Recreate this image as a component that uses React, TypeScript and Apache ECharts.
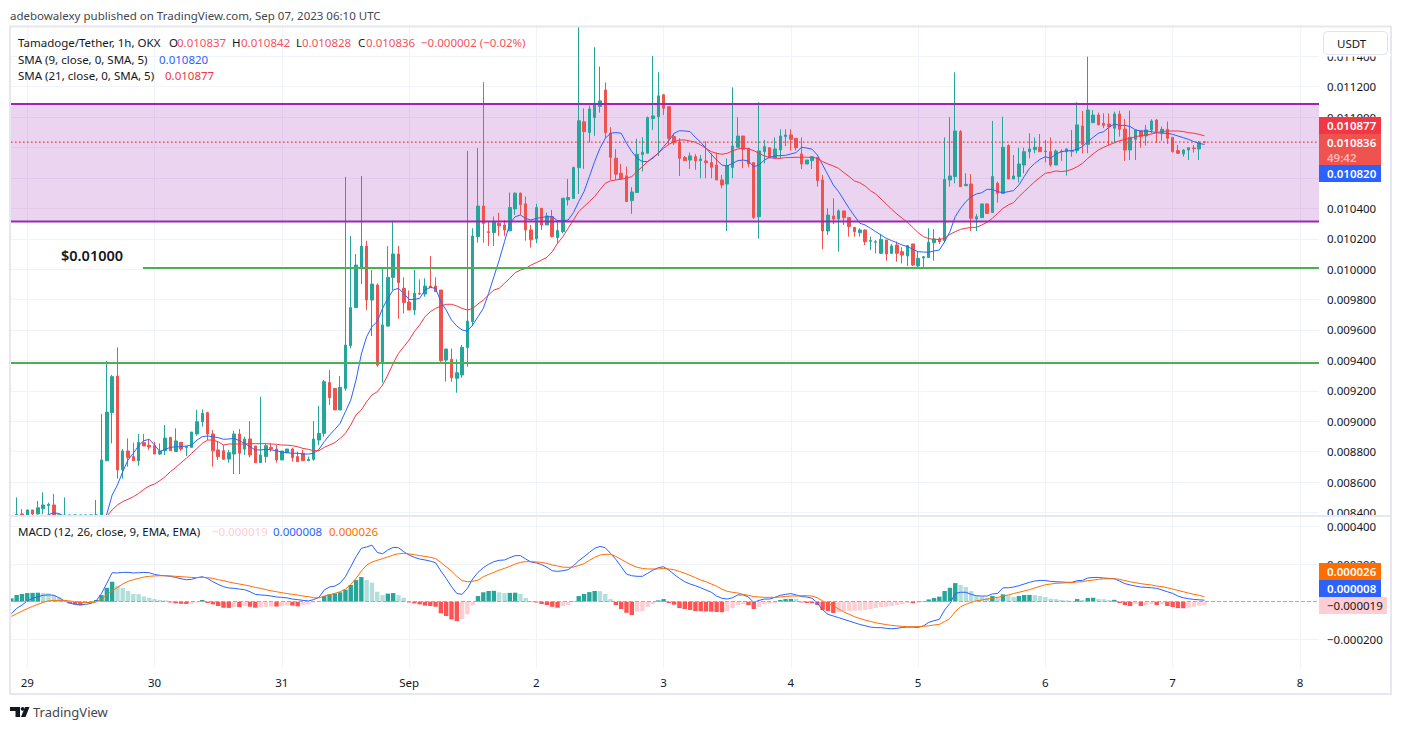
import React, { useEffect, useRef } from "react";
import * as echarts from "echarts";

// all prices are stored in millionths (10836 = 0.010836); rows are [open, close, low, high]
const aug28 = [[8385,8388,8380,8499],[8390,8385,8370,8422]];
const aug29 = [[8380,8416,8370,8418],[8416,8390,8380,8416],[8390,8431,8385,8475],[8425,8449,8388,8532],[8444,8453,8387,8464],[8449,8380,8370,8521],[8370,8350,8320,8380],[8370,8340,8320,8499],[8340,8330,8300,8360],[8330,8320,8300,8350],[8320,8340,8310,8360],[8340,8330,8300,8370],[8330,8300,8280,8350],[8300,8340,8280,8482],[8360,8745,8340,9047],[8740,9060,8737,9396],[9056,9293,8854,9304],[9297,8679,8622,9486],[8679,8804,8622,8817],[8804,8760,8701,8887],[8767,8740,8740,8859],[8740,8861,8707,8916],[8859,8837,8837,8916],[8841,8830,8811,8876]];
const aug30 = [[8839,8784,8784,8865],[8784,8804,8778,8854],[8806,8889,8778,8975],[8894,8806,8806,8894],[8800,8870,8800,8953],[8861,8817,8804,8861],[8826,8832,8771,8834],[8828,8929,8828,8929],[8916,8997,8905,9074],[8997,9052,8964,9078],[9056,8916,8876,9063],[8916,8806,8701,8942],[8811,8767,8745,8865],[8806,8749,8745,8843],[8751,8793,8727,8811],[8784,8916,8653,8936],[8916,8789,8653,8949],[8817,8883,8778,8898],[8883,8778,8762,9001],[8837,8727,8727,8837],[8727,8778,8727,9161],[8767,8839,8727,8854],[8828,8817,8800,8854],[8817,8745,8727,8843]];
const aug31 = [[8745,8804,8745,8804],[8793,8817,8793,8817],[8817,8760,8734,8826],[8767,8734,8734,8800],[8789,8740,8740,8811],[8740,8749,8740,8767],[8749,8883,8740,9001],[8876,8920,8843,9100],[8920,9260,8898,9271],[9254,9155,9107,9337],[9216,9074,9074,9216],[9074,9223,9074,9297],[9216,9501,9200,10607],[9497,9747,9479,10218],[9747,10027,9747,10100],[10010,10152,9902,10613],[10152,9797,9731,10187],[9797,9902,9560,9994],[9896,9369,9358,9907],[9382,9633,9253,10005],[9626,9946,9622,10152],[9946,10100,9863,10318],[10100,9911,9674,10152],[9874,9780,9709,9946]];
const sep1 = [[9784,9731,9731,9860],[9731,9841,9698,9994],[9841,9836,9830,9933],[9837,9889,9819,9940],[9889,9878,9878,10087],[9889,9852,9852,9946],[9863,9398,9390,9863],[9402,9475,9260,9475],[9407,9286,9260,9479],[9282,9319,9187,9407],[9304,9486,9286,9501],[9484,9659,9358,10778],[9655,10218,9626,10269],[10214,10415,10174,10796],[10415,10301,10174,11230],[10247,10241,10153,10313],[10241,10313,10153,10346],[10302,10285,10219,10372],[10291,10258,10219,10324],[10252,10405,10252,10504],[10396,10500,10357,10504],[10500,10423,10357,10504],[10430,10258,10188,10478],[10258,10193,10142,10291]];
const sep2 = [[10199,10405,10171,10430],[10401,10291,10258,10401],[10291,10350,10291,10372],[10346,10215,10208,10390],[10208,10254,10171,10324],[10247,10467,10236,10467],[10456,10471,10419,10594],[10465,10668,10465,10675],[10668,10976,10495,11620],[10969,10905,10660,11057],[10899,11054,10833,11076],[10997,11087,10877,11460],[11070,11107,11030,11333],[11179,10899,10861,11228],[10894,10736,10587,10934],[10730,10625,10587,10789],[10631,10594,10587,10693],[10614,10445,10445,10675],[10451,10508,10364,10539],[10504,10756,10504,10857],[10754,10769,10642,10868],[10763,10997,10763,11004],[10991,11008,10916,11403],[11004,11140,10745,11296]];
const sep3 = [[11147,11059,11014,11153],[11069,10861,10817,11069],[10872,10832,10817,10894],[10837,10729,10613,10861],[10734,10714,10714,10745],[10718,10745,10659,10767],[10740,10712,10653,10758],[10714,10725,10598,10751],[10712,10701,10598,10843],[10701,10670,10598,10762],[10685,10587,10587,10767],[10587,10554,10532,10620],[10560,10681,10251,10729],[10668,10810,10598,11196],[10802,10876,10802,11000],[10876,10789,10664,10876],[10795,10692,10670,10795],[10701,10341,10330,10701],[10345,10778,10201,11098],[10773,10806,10696,10850],[10799,10734,10729,10799],[10734,10791,10729,10867],[10784,10876,10729,10920],[10872,10883,10810,10920]];
const sep4 = [[10883,10854,10780,10920],[10861,10799,10780,10861],[10758,10692,10659,10867],[10692,10718,10692,10718],[10714,10740,10659,10740],[10734,10582,10543,10734],[10587,10251,10133,10620],[10251,10356,10225,10400],[10350,10330,10297,10466],[10330,10383,10115,10394],[10383,10339,10291,10383],[10339,10280,10214,10339],[10275,10247,10214,10275],[10240,10258,10214,10269],[10258,10181,10159,10262],[10183,10188,10126,10214],[10177,10181,10104,10192],[10104,10196,10100,10231],[10192,10100,10056,10192],[10104,10153,10100,10166],[10159,10104,10049,10181],[10115,10093,10038,10144],[10087,10155,10021,10159],[10166,10027,10021,10166]];
const sep5 = [[10021,10071,10008,10115],[10074,10082,10008,10087],[10076,10177,10076,10269],[10174,10199,10056,10264],[10199,10181,10166,10210],[10188,10591,10174,10867],[10587,10613,10543,11000],[10609,10909,10565,11295],[10905,10543,10543,10915],[10549,10558,10549,10631],[10560,10335,10251,10626],[10330,10345,10251,10363],[10339,10429,10339,10429],[10429,10367,10363,10433],[10372,10609,10372,10975],[10565,10499,10438,10576],[10499,10802,10499,11003],[10813,10593,10593,10821],[10593,10613,10593,10751],[10609,10692,10571,10799],[10685,10773,10631,10799],[10773,10791,10729,10894],[10786,10802,10762,10867],[10802,10773,10773,10889]];
const sep6 = [[10773,10777,10703,10850],[10773,10685,10674,10867],[10685,10777,10685,10788],[10777,10771,10712,10788],[10773,10791,10615,10795],[10775,10780,10740,10916],[10780,10949,10762,11098],[10942,10821,10762,11041],[10821,11047,10762,11398],[10964,11014,10960,11047],[11014,10949,10949,11030],[10960,10946,10927,11025],[10955,10938,10817,11025],[10927,11021,10828,11036],[11021,10920,10872,11043],[10922,10784,10712,10988],[10784,10867,10718,11043],[10854,10916,10718,10916],[10909,10872,10799,10909],[10876,10916,10813,10949],[10916,10975,10894,10986],[10981,10905,10832,10988],[10898,10920,10845,10938],[10920,10861,10824,10971]];
const sep7 = [[10867,10773,10767,10867],[10780,10762,10758,10817],[10758,10784,10740,10788],[10784,10799,10718,10799],[10797,10793,10767,10817],[10791,10832,10718,10843],[10837,10836,10828,10842]];

const candleStartHour = -2;
const sma9StartHour = -2;
const sma9Values = [8300,8310,8320,8335,8350,8370,8385,8398,8392,8375,8360,8345,8335,8330,8325,8330,8350,8389,
8514,8580,8668,8745,8789,8839,8872,8881,8843,8800,8815,8828,8832,8832,8837,8843,8876,8898,8903,8898,8892,8881,8883,8887,8872,8854,8832,8811,8811,8815,8811,8806,
8797,8793,8789,8789,8784,8784,8789,8815,8865,8909,8946,8986,9063,9139,9271,9442,9556,9622,9655,9742,9808,9863,9874,9841,
9801,9801,9808,9863,9880,9874,9786,9731,9666,9626,9600,9593,9633,9687,9742,9841,9951,10060,10181,10301,10345,10356,10334,10323,
10334,10341,10345,10345,10319,10319,10323,10372,10445,10511,10609,10708,10796,10861,10894,10899,10894,10829,10774,10730,10708,10708,10730,10763,
10806,10846,10894,10911,10909,10905,10867,10835,10795,10756,10718,10685,10679,10696,10714,10718,10712,10674,10685,10718,10736,10745,10747,10749,
10758,10767,10802,10797,10789,10751,10685,10620,10554,10510,10455,10400,10350,10302,10291,10269,10247,10225,10203,10188,10174,10159,10148,10131,
10115,10113,10111,10120,10126,10181,10247,10346,10400,10444,10477,10495,10503,10525,10525,10510,10503,10510,10517,10554,10609,10663,10696,10723,
10740,10729,10758,10773,10778,10780,10789,10806,10839,10867,10894,10905,10933,10955,10946,10946,10938,10916,10909,10909,10905,10898,10894,10894,
10887,10876,10865,10854,10839,10828,10820];

const sma21StartHour = 15;
const sma21Values = [8375,8416,8449,8471,8486,8503,8525,8552,8574,
8587,8609,8635,8668,8696,8727,8756,8789,8821,8854,8876,8876,8865,8843,8850,8850,8850,8850,8852,8852,8852,8852,8850,8848,
8843,8843,8839,8832,8821,8815,8806,8806,8828,8843,8859,8887,8920,8975,9041,9074,9128,9172,9194,9238,9304,9380,9446,9490,
9534,9589,9633,9687,9720,9742,9758,9769,9769,9758,9742,9731,9742,9771,9797,9830,9863,9874,9907,9940,9977,9994,10005,10027,
10043,10060,10078,10115,10170,10214,10269,10324,10379,10412,10445,10478,10522,10565,10581,10587,10592,10598,10609,10642,10675,10708,10736,10763,
10795,10821,10839,10850,10850,10843,10835,10817,10795,10773,10762,10756,10762,10778,10791,10797,10791,10780,10762,10745,10734,10729,10729,10734,
10734,10736,10736,10736,10736,10729,10707,10692,10679,10663,10635,10609,10580,10569,10547,10517,10495,10462,10429,10394,10363,10335,10308,10275,
10240,10214,10201,10196,10196,10203,10229,10247,10262,10269,10275,10275,10291,10308,10335,10367,10400,10422,10438,10477,10510,10543,10576,10604,
10631,10637,10646,10642,10646,10657,10674,10696,10729,10758,10784,10802,10817,10832,10845,10854,10861,10872,10878,10883,10889,10898,10905,10909,
10909,10909,10905,10898,10894,10887,10877];

const macdStartHour = -3;
const histValues = [18,35,41,46,47,48,46,45,35,21,4,-9,-14,-18,-6,-4,9,35,74,106,85,74,57,41,40,28,21,
14,9,7,-4,-9,-11,-12,-11,-5,9,-7,-14,-23,-32,-33,-28,-29,-23,-27,-32,-31,-28,-25,-26,
-24,-20,-21,-25,-18,-14,-4,4,30,39,44,50,64,89,115,131,115,101,53,35,43,46,35,21,
-4,-9,-14,-21,-23,-27,-62,-76,-94,-103,-92,-67,-18,30,50,57,58,50,46,47,48,41,20,-2,
-4,-12,-18,-27,-32,-23,-18,2,30,41,51,57,56,41,14,-18,-39,-59,-71,-53,-50,-28,-12,7,
14,-7,-16,-34,-39,-44,-50,-51,-52,-53,-55,-56,-51,-34,-18,-12,-18,-39,-28,-14,-11,-7,9,14,
15,14,-4,-7,-8,-18,-44,-50,-60,-55,-50,-49,-48,-47,-44,-39,-34,-28,-27,-23,-18,-12,-7,-8,
-6,2,12,20,27,57,74,99,89,78,57,30,27,21,30,21,39,32,25,30,35,36,35,30,
25,16,14,9,7,4,14,9,20,21,14,13,9,10,-7,-18,-23,-12,-23,-18,-12,-18,-12,-23,
-28,-34,-35,-32,-27,-21,-19];
const macdValues = [-64,-35,-18,4,18,27,34,36,34,21,4,-7,-14,-18,-14,-9,4,44,98,154,153,156,156,153,154,156,154,
145,140,138,135,129,122,117,119,128,133,124,106,92,80,73,71,67,64,53,39,36,34,30,25,
23,20,14,11,7,4,11,23,62,78,83,99,133,186,239,284,291,301,262,255,275,289,287,266,
248,236,227,222,216,207,163,124,80,44,39,71,121,156,181,199,213,220,222,234,245,245,227,211,
206,197,183,165,161,165,170,191,218,239,262,284,294,287,257,225,186,147,138,135,135,151,168,181,
186,168,145,124,106,94,85,74,62,50,30,18,14,21,36,36,25,-4,7,14,14,23,34,39,
43,36,27,25,18,-7,-44,-67,-76,-85,-94,-103,-112,-121,-128,-135,-138,-138,-142,-144,-142,-137,-135,-135,
-137,-129,-110,-101,-94,-44,-9,44,50,50,39,32,30,30,41,44,74,74,78,85,94,103,110,113,
113,108,106,105,103,103,112,113,126,129,129,126,124,122,110,96,89,83,78,76,74,71,62,
53,44,30,21,16,12,10,8];
const signalValues = [-78,-64,-50,-37,-25,-14,-4,4,7,7,7,4,0,-4,-5,-4,-2,14,36,57,76,94,108,117,124,131,135,
137,138,138,137,135,133,131,129,128,129,128,124,117,112,105,99,94,89,83,76,71,64,58,53,
48,43,39,36,30,27,21,20,30,37,44,53,67,92,124,163,195,211,220,229,238,248,255,257,
254,250,245,241,236,229,209,186,163,135,112,106,108,115,133,145,156,168,177,188,200,209,213,213,
211,209,204,195,190,184,183,184,193,202,220,236,248,252,252,241,225,209,195,183,177,174,174,174,
177,174,170,161,151,140,128,115,106,94,82,67,55,50,46,39,34,27,25,23,23,23,25,28,
30,30,32,32,30,21,4,-7,-21,-39,-55,-67,-80,-89,-98,-105,-112,-117,-122,-126,-129,-131,-133,-133,
-133,-131,-128,-124,-121,-106,-89,-53,-27,-14,-4,5,9,14,18,23,30,36,43,50,57,64,73,82,
90,94,98,99,101,101,105,106,112,115,119,121,122,122,119,112,106,101,96,92,89,83,80,74,
67,60,53,46,39,34,26];

const dayTicks = [0,24,48,72,96,120,144,168,192,216,240];
const dayLabels = ["29","30","31","Sep","2","3","4","5","6","7","8"];
const priceTicks = [8400,8600,8800,9000,9200,9400,9600,9800,10000,10200,10400,10600,10800,11000,11200,11400];
const priceLabelTicks = [8400,8600,8800,9000,9200,9400,9600,9800,10000,10200,10400,11000,11200,11400];
const macdTicks = [-200,200,400];

const rangeTop = 11087;
const rangeBottom = 10313;
const upperSupport = 10008;
const lowerSupport = 9383;
const upperSupportStartHour = 21.8;
const lastPrice = 10836;

const M = 1e-6;
const FONT = '"Noto Sans", sans-serif';
const X_MIN = -3.07, X_MAX = 243.6;
const P_MIN = 8383, P_MAX = 11593;
const UP = "#26a69a", DOWN = "#ef5350";

const candles = [...aug28, ...aug29, ...aug30, ...aug31, ...sep1, ...sep2, ...sep3, ...sep4, ...sep5, ...sep6, ...sep7];
const pts = (start: number, vals: number[]) => vals.map((v, i) => [start + i, v * M]);
// candles run past the visible pane; the candlestick series does not cut their wicks there
const inPane = (v: number) => Math.min(P_MAX, Math.max(P_MIN, v)) * M;

const fmtPrice = (v: number) => v.toFixed(6).replace("-", "\u2212");

const histData = histValues.map((v, i) => {
  const prev = i > 0 ? histValues[i - 1] : 0;
  const color = v >= 0 ? (v > prev ? "#26a69a" : "#b2dfdb") : (v < prev ? "#ff5252" : "#ffcdd2");
  return { value: [macdStartHour + i, v * M], itemStyle: { color } };
});

const txt = (text: string, x: number, y: number, fill: string, extra: any = {}) => ({
  type: "text",
  z: 100,
  silent: true,
  style: { text, x, y, fill, fontFamily: FONT, fontSize: 11.5, verticalAlign: "middle", align: "left", ...extra },
});
const box = (x: number, y: number, width: number, height: number, fill: string) => ({
  type: "rect", z: 99, silent: true, shape: { x, y, width, height }, style: { fill },
});
const level = (name: string, value: number, fromHour: number, color: string, width: number, type: any) => ({
  type: "line", name, xAxisIndex: 0, yAxisIndex: 0, showSymbol: false, symbol: "none", z: 5, silent: true,
  lineStyle: { color, width, type }, data: [[fromHour, value * M], [X_MAX, value * M]],
});

const LEG = "#131722";
const RED = "#f7525f";

const graphicElements: any[] = [
  // frame
  { type: "rect", z: 98, silent: true, shape: { x: 10, y: 26.5, width: 1381, height: 667.5 }, style: { fill: "none", stroke: "#e6e7f0", lineWidth: 2 } },
  { type: "rect", z: 98, silent: true, shape: { x: 10, y: 515, width: 1381, height: 2 }, style: { fill: "#e6e7f0" } },
  txt("adebowalexy published on TradingView.com, Sep 07, 2023 06:10 UTC", 10, 15, "#434651"),
  // legend
  txt("Tamadoge/Tether, 1h, OKX", 18, 42, LEG),
  txt("O", 169, 42, LEG), txt("0.010837", 177, 42, RED),
  txt("H", 232, 42, LEG), txt("0.010842", 241, 42, RED),
  txt("L", 296, 42, LEG), txt("0.010828", 302, 42, RED),
  txt("C", 358, 42, LEG), txt("0.010836", 366, 42, RED),
  txt("\u22120.000002 (\u22120.02%)", 421, 42, RED),
  txt("SMA (9, close, 0, SMA, 5)", 18, 59, LEG), txt("0.010820", 159, 59, "#2962ff"),
  txt("SMA (21, close, 0, SMA, 5)", 18, 75, LEG), txt("0.010877", 165, 75, "#f23645"),
  txt("MACD (12, 26, close, 9, EMA, EMA)", 18, 531, LEG),
  txt("\u22120.000019", 212, 531, "#ffcdd2"), txt("0.000008", 273, 531, "#2962ff"), txt("0.000026", 329, 531, "#ff6d00"),
  txt("$0.01000", 61, 255, "#131722", { fontSize: 14.5, fontWeight: 600 }),
  // USDT button
  box(1319, 54, 72, 2.5, "#ffffff"),
  { type: "rect", z: 99, silent: true, shape: { x: 1323.5, y: 31.5, width: 64, height: 23, r: 4 }, style: { fill: "#ffffff", stroke: "#e0e3eb", lineWidth: 1 } },
  txt("USDT", 1337, 43, LEG),
  // price badges
  box(1319, 117, 62, 17, "#f23645"), txt("0.010877", 1327, 125.5, "#ffffff", { fontWeight: 600 }),
  box(1319, 134, 62, 31, "#ef5350"), txt("0.010836", 1327, 142.5, "#ffffff", { fontWeight: 600 }),
  txt("49:42", 1327, 157, "rgba(255,255,255,0.6)", { fontWeight: 600 }),
  box(1319, 165, 62, 17, "#2962ff"), txt("0.010820", 1327, 173.5, "#ffffff", { fontWeight: 600 }),
  // MACD badges
  box(1319, 563, 62, 17, "#ff6d00"), txt("0.000026", 1327, 571.5, "#ffffff", { fontWeight: 600 }),
  box(1319, 580, 62, 17, "#2962ff"), txt("0.000008", 1327, 588.5, "#ffffff", { fontWeight: 600 }),
  box(1319, 597, 68, 17, "#ffcdd2"), txt("\u22120.000019", 1327, 605.5, "#131722"),
  // TradingView mark
  { type: "polygon", z: 100, silent: true, shape: { points: [[10,707],[20,707],[20,717],[15.5,717],[15.5,711],[10,711]] }, style: { fill: "#131722" } },
  { type: "circle", z: 100, silent: true, shape: { cx: 22.6, cy: 708.8, r: 1.9 }, style: { fill: "#131722" } },
  { type: "polygon", z: 100, silent: true, shape: { points: [[25,707],[29.5,707],[25.5,717],[21,717]] }, style: { fill: "#131722" } },
  txt("TradingView", 33, 712, "#434651", { fontSize: 13 }),
];

const App = () => {
  const ref = useRef<HTMLDivElement>(null);
  useEffect(() => {
    const chart = echarts.init(ref.current!, undefined, { renderer: "svg" });
    const splitLine = { show: true, lineStyle: { color: "#f0f3fa", width: 1 } };
    const xBase = {
      type: "value", min: X_MIN, max: X_MAX, axisLine: { show: false },
      axisTick: { show: false, customValues: dayTicks }, splitLine,
    };
    const yBase = {
      type: "value", position: "right", axisLine: { show: false }, splitLine,
    };
    chart.setOption({
      animation: false,
      backgroundColor: "#ffffff",
      graphic: { elements: graphicElements },
      grid: [
        { left: 11, top: 27, width: 1308, height: 488 },
        { left: 11, top: 517, width: 1308, height: 151 },
      ],
      xAxis: [
        { ...xBase, gridIndex: 0, axisLabel: { show: false, customValues: dayTicks } },
        {
          ...xBase, gridIndex: 1,
          axisLabel: {
            show: true, customValues: dayTicks, margin: 8, color: "#131722", fontFamily: FONT, fontSize: 11.5,
            formatter: (v: number) => dayLabels[dayTicks.indexOf(Math.round(v))] ?? "",
          },
        },
      ],
      yAxis: [
        {
          ...yBase, gridIndex: 0, min: P_MIN * M, max: P_MAX * M,
          axisTick: { show: false, customValues: priceTicks.map((v) => v * M) },
          axisLabel: {
            customValues: priceLabelTicks.map((v) => v * M), margin: 8, color: "#131722", fontFamily: FONT, fontSize: 11.5,
            formatter: (v: number) => fmtPrice(v),
          },
        },
        {
          ...yBase, gridIndex: 1, min: -352.7 * M, max: 450.5 * M,
          axisTick: { show: false, customValues: macdTicks.map((v) => v * M) },
          axisLabel: {
            customValues: macdTicks.map((v) => v * M), margin: 8, color: "#131722", fontFamily: FONT, fontSize: 11.5,
            formatter: (v: number) => fmtPrice(v),
          },
        },
      ],
      series: [
        {
          type: "candlestick", name: "Tamadoge/Tether", xAxisIndex: 0, yAxisIndex: 0, barWidth: 3,
          itemStyle: { color: UP, color0: DOWN, borderColor: UP, borderColor0: DOWN, borderWidth: 1 },
          data: candles.map((c, i) => [candleStartHour + i, inPane(c[0]), inPane(c[1]), inPane(c[2]), inPane(c[3])]),
          markArea: {
            silent: true,
            itemStyle: { color: "rgba(156,39,176,0.2)" },
            data: [[{ yAxis: rangeTop * M }, { yAxis: rangeBottom * M }]],
          },
        },
        {
          type: "line", name: "SMA 9", xAxisIndex: 0, yAxisIndex: 0, showSymbol: false, symbol: "none", z: 3,
          lineStyle: { color: "#2962ff", width: 1 }, data: pts(sma9StartHour, sma9Values),
        },
        {
          type: "line", name: "SMA 21", xAxisIndex: 0, yAxisIndex: 0, showSymbol: false, symbol: "none", z: 3,
          lineStyle: { color: "#f23645", width: 1 }, data: pts(sma21StartHour, sma21Values),
        },
        level("Last price", lastPrice, X_MIN, "#f23645", 1.4, [1.6, 2.4]),
        level("Range top", rangeTop, X_MIN, "#9c27b0", 2, "solid"),
        level("Range bottom", rangeBottom, X_MIN, "#9c27b0", 2, "solid"),
        level("Level 0.01000", upperSupport, upperSupportStartHour, "#4caf50", 2, "solid"),
        level("Lower level", lowerSupport, X_MIN, "#4caf50", 2, "solid"),
        {
          type: "bar", name: "Histogram", xAxisIndex: 1, yAxisIndex: 1, barWidth: 4.4, data: histData,
          markLine: {
            silent: true, symbol: "none", label: { show: false }, animation: false,
            lineStyle: { color: "#a8abb5", width: 1, type: "dashed" },
            data: [{ yAxis: 0 }],
          },
        },
        {
          type: "line", name: "MACD", xAxisIndex: 1, yAxisIndex: 1, showSymbol: false, symbol: "none", z: 3,
          lineStyle: { color: "#2962ff", width: 1 }, data: pts(macdStartHour, macdValues),
        },
        {
          type: "line", name: "Signal", xAxisIndex: 1, yAxisIndex: 1, showSymbol: false, symbol: "none", z: 3,
          lineStyle: { color: "#ff6d00", width: 1 }, data: pts(macdStartHour, signalValues),
        },
      ],
    });
    return () => chart.dispose();
  }, []);
  return <div ref={ref} style={{ position: "fixed", left: 0, top: 0, width: 1401, height: 730, background: "#fff" }} />;
};

export default App;
